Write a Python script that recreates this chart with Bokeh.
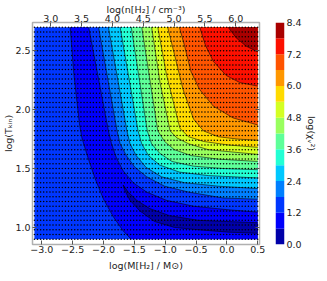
import numpy as np
from bokeh.plotting import figure
from bokeh.layouts import row
from bokeh.models import Range1d, LinearAxis, FixedTicker, CustomJSTickFormatter
from bokeh.embed import file_html
from bokeh.resources import INLINE

# ---------------- data ----------------
levels = [0.0, 0.6, 1.2, 1.8, 2.4, 3.0, 3.6, 4.2, 4.8, 5.4, 6.0, 6.6, 7.2, 7.8, 8.4]
cbar_ticks = [0.0, 1.2, 2.4, 3.6, 4.8, 6.0, 7.2, 8.4]
logm_ticks = [-3.0, -2.5, -2.0, -1.5, -1.0, -0.5, 0.0, 0.5]
logn_ticks = [3.0, 3.5, 4.0, 4.5, 5.0, 5.5, 6.0]
logt_ticks = [1.0, 1.5, 2.0, 2.5]

grid_logm = (-3.12, 0.50)      # extent of the model grid (log M)
grid_logt = (0.90, 2.70)       # extent of the model grid (log Tkin)
n_logm, n_logt = 73, 46        # grid points per axis
logn_minus_logm = 5.856        # top axis: log n = log M + this

# contour lines (log M, log Tkin)
# 0.6 : the closed valley (crescent), from right edge round the tip back to right edge
c06_m = [0.50, 0.02, -0.46, -0.93, -1.25, -1.46, -1.60, -1.68, -1.66, -1.57, -1.41, -1.17, -0.85, -0.46, 0.02, 0.50]
c06_t = [1.04, 1.05, 1.06, 1.10, 1.16, 1.23, 1.30, 1.36, 1.32, 1.23, 1.14, 1.05, 1.00, 0.98, 0.96, 0.95]
# 1.2 : left branch (top edge -> bottom edge)
c12a_m = [-2.54, -2.48, -2.39, -2.35, -2.25, -2.14, -2.00, -1.84, -1.68, -1.55]
c12a_t = [2.70, 2.30, 1.88, 1.76, 1.59, 1.42, 1.24, 1.09, 0.97, 0.90]
# 1.2 : right branch (top edge -> right edge)
c12b_m = [-2.24, -1.92, -1.87, -1.79, -1.68, -1.52, -1.30, -0.98, -0.54, 0.02, 0.50]
c12b_t = [2.70, 1.82, 1.71, 1.59, 1.48, 1.38, 1.30, 1.23, 1.18, 1.15, 1.13]
c18_m = [-2.08, -1.78, -1.73, -1.63, -1.49, -1.30, -1.01, -0.62, -0.06, 0.50]
c18_t = [2.70, 1.82, 1.71, 1.61, 1.51, 1.43, 1.35, 1.30, 1.25, 1.24]
c24_m = [-1.92, -1.62, -1.57, -1.47, -1.31, -1.06, -0.69, -0.14, 0.50]
c24_t = [2.70, 1.82, 1.71, 1.61, 1.51, 1.43, 1.38, 1.35, 1.33]
c30_m = [-1.73, -1.44, -1.38, -1.27, -1.09, -0.77, -0.30, 0.50]
c30_t = [2.70, 1.82, 1.71, 1.61, 1.53, 1.47, 1.44, 1.42]
c36_m = [-1.55, -1.29, -1.22, -1.09, -0.89, -0.54, -0.06, 0.50]
c36_t = [2.70, 1.82, 1.71, 1.63, 1.56, 1.52, 1.50, 1.49]
c42_m = [-1.38, -1.12, -1.01, -0.85, -0.58, -0.14, 0.50]
c42_t = [2.70, 1.82, 1.73, 1.66, 1.61, 1.58, 1.56]
c48_m = [-1.22, -1.08, -0.92, -0.81, -0.62, -0.30, 0.10, 0.50]
c48_t = [2.70, 2.22, 1.82, 1.76, 1.71, 1.66, 1.64, 1.62]
c54_m = [-1.12, -0.98, -0.76, -0.62, -0.38, 0.02, 0.50]
c54_t = [2.70, 2.30, 1.84, 1.77, 1.73, 1.70, 1.68]
c60_m = [-0.96, -0.85, -0.71, -0.54, -0.38, -0.14, 0.18, 0.50]
c60_t = [2.70, 2.47, 2.17, 1.92, 1.82, 1.77, 1.75, 1.74]
c66_m = [-0.77, -0.69, -0.58, -0.44, -0.22, 0.10, 0.50]
c66_t = [2.70, 2.55, 2.32, 2.17, 2.03, 1.93, 1.87]
c72_m = [-0.44, -0.35, -0.22, -0.01, 0.21, 0.50]
c72_t = [2.70, 2.55, 2.41, 2.29, 2.23, 2.20]
c78_m = [0.02, 0.15, 0.31, 0.50]
c78_t = [2.70, 2.61, 2.54, 2.49]

# ---------------- colours (matplotlib "jet", sampled at band midpoints) ----------------
def jet(v):
    r = np.interp(v, [0, .35, .66, .89, 1], [0, 0, 1, 1, .5])
    g = np.interp(v, [0, .125, .375, .64, .91, 1], [0, 0, 1, 1, 0, 0])
    b = np.interp(v, [0, .11, .34, .65, 1], [.5, 1, 1, 0, 0])
    return "#%02x%02x%02x" % (int(round(r * 255)), int(round(g * 255)), int(round(b * 255)))

band_colors = [jet((levels[i] + levels[i + 1]) / 2 / levels[-1]) for i in range(len(levels) - 1)]

FONT = "DejaVu Sans"
TXT = "#222222"
FS = "9.5px"

x_lo, x_hi = -3.151, 0.529
y_lo, y_hi = 0.855, 2.740

p = figure(width=267, height=273, x_range=Range1d(x_lo, x_hi), y_range=Range1d(y_lo, y_hi),
           x_axis_location=None, y_axis_location=None, output_backend="svg",
           toolbar_location=None, min_border_left=27, min_border_right=8,
           min_border_top=21, min_border_bottom=29)
p.extra_x_ranges = {"n": Range1d(x_lo + logn_minus_logm, x_hi + logn_minus_logm)}
p.xgrid.visible = False
p.ygrid.visible = False
p.outline_line_color = "#b0b0b0"
p.outline_line_width = 1.5
p.background_fill_color = "white"
p.border_fill_color = "white"

gm0, gm1 = grid_logm
gt0, gt1 = grid_logt

# painter's fills
xs, ys, cols = [], [], []
xs.append([gm0, gm1, gm1, gm0]); ys.append([gt0, gt0, gt1, gt1]); cols.append(band_colors[2])
xs.append(c12a_m + [gm1] + c12b_m[::-1]); ys.append(c12a_t + [gt0] + c12b_t[::-1]); cols.append(band_colors[1])
xs.append(list(c06_m)); ys.append(list(c06_t)); cols.append(band_colors[0])
upper = [(c18_m, c18_t), (c24_m, c24_t), (c30_m, c30_t), (c36_m, c36_t), (c42_m, c42_t),
         (c48_m, c48_t), (c54_m, c54_t), (c60_m, c60_t), (c66_m, c66_t), (c72_m, c72_t),
         (c78_m, c78_t)]
for k, (cm, ct) in enumerate(upper):
    xs.append(cm + [gm1]); ys.append(ct + [gt1]); cols.append(band_colors[3 + k])
p.patches(xs=xs, ys=ys, fill_color=cols, line_color=None)

lx = [c06_m, c12a_m, c12b_m] + [u[0] for u in upper]
ly = [c06_t, c12a_t, c12b_t] + [u[1] for u in upper]
p.multi_line(xs=lx, ys=ly, line_color="black", line_width=0.55, line_join="round")

gm = np.linspace(gm0, gm1, n_logm)
gt = np.linspace(gt0, gt1, n_logt)
GM, GT = np.meshgrid(gm, gt)
p.scatter(GM.ravel(), GT.ravel(), size=1.5, marker="circle", fill_color="black", line_color=None)

fmt = CustomJSTickFormatter(code="return tick.toFixed(1).replace('-', '\\u2212');")
blank = CustomJSTickFormatter(code="return '';")


def style(ax, ticks, tick_so, label_so, formatter):
    ax.ticker = FixedTicker(ticks=ticks)
    ax.formatter = formatter
    ax.major_tick_in = 4
    ax.major_tick_out = 0
    ax.minor_tick_in = 0
    ax.minor_tick_out = 0
    ax.axis_line_color = None
    ax.major_tick_line_color = "#555555"
    ax.major_tick_line_width = 1
    ax.major_label_text_font = FONT
    ax.major_label_text_font_size = FS
    ax.major_label_text_color = TXT
    ax.axis_label_text_font = FONT
    ax.axis_label_text_font_size = FS
    ax.axis_label_text_font_style = "normal"
    ax.axis_label_text_color = TXT
    ax.major_label_standoff = tick_so
    ax.axis_label_standoff = label_so


ax_b = LinearAxis(axis_label="log(M[H\u2082] / M\u2299)")
style(ax_b, logm_ticks, 1, 4, fmt)
p.add_layout(ax_b, "below")
ax_l = LinearAxis(axis_label="log(T\u2096\u1d62\u2099)")
style(ax_l, logt_ticks, 2, -2, fmt)
p.add_layout(ax_l, "left")
ax_t = LinearAxis(x_range_name="n", axis_label="log(n[H\u2082] / cm\u207b\u00b3)")
style(ax_t, logn_ticks, 1, -3, fmt)
p.add_layout(ax_t, "above")
ax_r = LinearAxis()
style(ax_r, logt_ticks, 0, 0, blank)
p.add_layout(ax_r, "right")

# colour bar
cb = figure(width=52, height=273, x_range=Range1d(0, 1), y_range=Range1d(levels[0], levels[-1]),
            x_axis_location=None, y_axis_location=None, output_backend="svg",
            toolbar_location=None, min_border_left=8, min_border_right=30,
            min_border_top=21, min_border_bottom=29)
cb.xgrid.visible = False
cb.ygrid.visible = False
cb.outline_line_color = None
cb.border_fill_color = "white"
cb.quad(left=0, right=1, bottom=levels[:-1], top=levels[1:], fill_color=band_colors, line_color=None)
ax_c = LinearAxis(axis_label="log(\u03c7\u1d65\u00b2)")
style(ax_c, cbar_ticks, 2, 1, fmt)
ax_c.major_tick_in = 0
cb.add_layout(ax_c, "right")

layout = row(p, cb)
open("out.html", "w").write(file_html(layout, INLINE))
